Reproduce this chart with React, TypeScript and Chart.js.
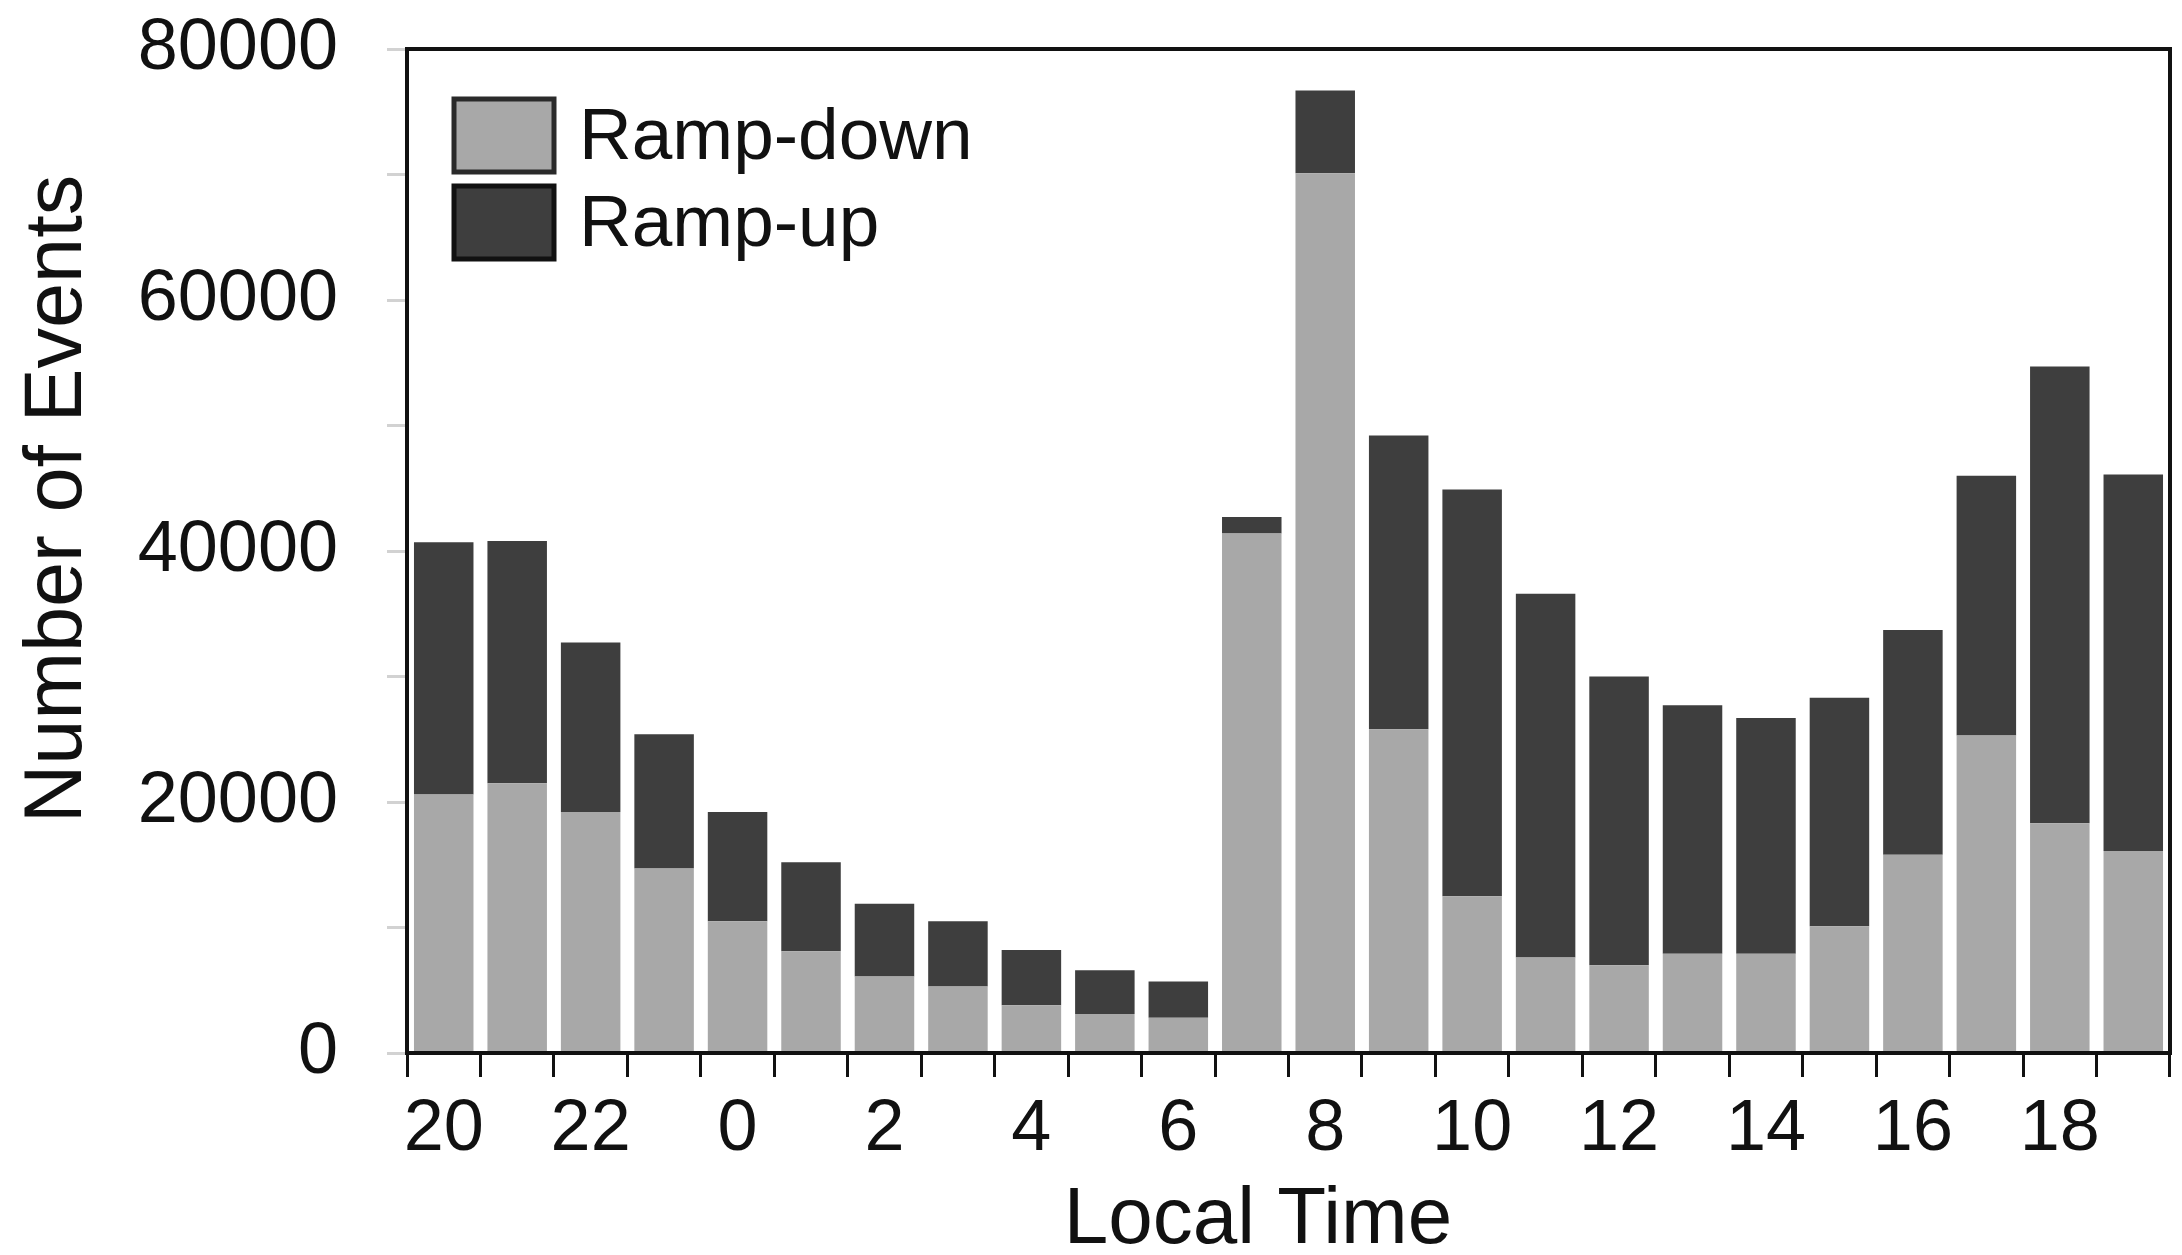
import React, { useEffect, useRef } from "react";
import { Chart, registerables } from "chart.js";

Chart.register(...registerables);

const hours = ["20", "21", "22", "23", "0", "1", "2", "3", "4", "5", "6", "7", "8", "9", "10", "11", "12", "13", "14", "15", "16", "17", "18", "19"];
const rampDown = [20600, 21500, 19200, 14700, 10500, 8100, 6100, 5300, 3800, 3100, 2800, 41400, 70100, 25800, 12500, 7600, 7000, 7900, 7900, 10100, 15800, 25300, 18300, 16100];
const rampUp = [20100, 19300, 13500, 10700, 8700, 7100, 5800, 5200, 4400, 3500, 2900, 1300, 6600, 23400, 32400, 29000, 23000, 19800, 18800, 18200, 17900, 20700, 36400, 30000];
const seriesNames = ["Ramp-down", "Ramp-up"];
const seriesColors = ["#a8a8a8", "#3e3e3e"];
const yTitle = "Number of Events";
const xTitle = "Local Time";

const DIGIT_FONT = "'Liberation Sans Narrow', 'Liberation Sans', Arial, sans-serif";
const TEXT_FONT = "'Liberation Sans', Arial, sans-serif";

const decorPlugin = {
  id: "decor",
  afterDraw(chart: any) {
    const { ctx, chartArea } = chart;
    ctx.save();
    ctx.strokeStyle = "#111";
    ctx.lineWidth = 4;
    ctx.strokeRect(chartArea.left, chartArea.top, chartArea.right - chartArea.left, chartArea.bottom - chartArea.top);

    const boxX = chartArea.left + 47;
    const boxW = 100;
    const boxH = 73;
    const rows = [chartArea.top + 50, chartArea.top + 137];
    chart.data.datasets.forEach((ds: any, i: number) => {
      const y = rows[i];
      ctx.fillStyle = ds.backgroundColor;
      ctx.fillRect(boxX, y, boxW, boxH);
      ctx.strokeStyle = i === 0 ? "#2a2a2a" : "#111";
      ctx.lineWidth = 5;
      ctx.strokeRect(boxX, y, boxW, boxH);
      ctx.fillStyle = "#111";
      ctx.font = `73px ${TEXT_FONT}`;
      ctx.textAlign = "left";
      ctx.textBaseline = "alphabetic";
      ctx.fillText(ds.label, boxX + 125, y + 60);
    });

    ctx.fillStyle = "#111";
    ctx.font = `80px ${TEXT_FONT}`;
    ctx.textAlign = "center";
    ctx.textBaseline = "alphabetic";
    ctx.fillText(xTitle, 1258, 1243);

    ctx.save();
    ctx.translate(81, 499);
    ctx.rotate(-Math.PI / 2);
    ctx.font = `81px ${TEXT_FONT}`;
    ctx.fillText(yTitle, 0, 0);
    ctx.restore();

    ctx.restore();
  },
};

export default function App() {
  const ref = useRef<HTMLCanvasElement | null>(null);

  useEffect(() => {
    if (!ref.current) return;
    const chart = new Chart(ref.current, {
      type: "bar",
      data: {
        labels: hours,
        datasets: [
          {
            label: seriesNames[0],
            data: rampDown,
            backgroundColor: seriesColors[0],
            barPercentage: 0.81,
            categoryPercentage: 1,
          },
          {
            label: seriesNames[1],
            data: rampUp,
            backgroundColor: seriesColors[1],
            barPercentage: 0.81,
            categoryPercentage: 1,
          },
        ],
      },
      options: {
        responsive: false,
        animation: false,
        layout: { padding: { top: 49, right: 12, left: 0, bottom: 0 } },
        plugins: {
          legend: { display: false },
          tooltip: { enabled: false },
        },
        scales: {
          x: {
            stacked: true,
            grid: {
              offset: true,
              drawOnChartArea: false,
              drawTicks: true,
              tickLength: 24,
              color: "#111",
              lineWidth: 3,
            },
            border: { display: true, color: "#111", width: 4 },
            ticks: {
              autoSkip: false,
              maxRotation: 0,
              minRotation: 0,
              padding: 10,
              color: "#111",
              font: { family: DIGIT_FONT, size: 72 },
              callback: (_v: any, i: number) => (i % 2 === 0 ? hours[i] : ""),
            },
            afterFit: (s: any) => {
              s.height = 202;
              s.paddingLeft = 0;
              s.paddingRight = 0;
            },
          },
          y: {
            stacked: true,
            min: 0,
            max: 80000,
            grid: {
              drawOnChartArea: false,
              drawTicks: true,
              tickLength: 20,
              color: "#d2d2d2",
              lineWidth: 3,
            },
            border: { display: true, color: "#111", width: 4 },
            ticks: {
              stepSize: 10000,
              padding: 49,
              color: "#111",
              font: { family: DIGIT_FONT, size: 72 },
              callback: (v: any) => (Number(v) % 20000 === 0 ? String(v) : ""),
            },
            afterFit: (s: any) => {
              s.width = 407;
              s.paddingTop = 0;
              s.paddingBottom = 0;
            },
          },
        },
      },
      plugins: [decorPlugin],
    });
    return () => chart.destroy();
  }, []);

  return (
    <div style={{ position: "fixed", left: 0, top: 0, width: 2182, height: 1255, background: "#fff" }}>
      <canvas ref={ref} width={2182} height={1255} style={{ width: 2182, height: 1255, display: "block" }} />
    </div>
  );
}
